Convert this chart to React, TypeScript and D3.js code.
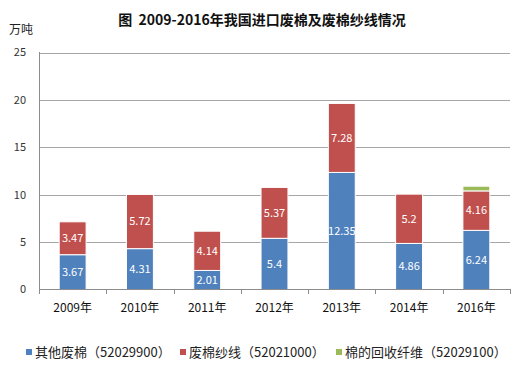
import React, { useEffect, useRef } from 'react';
import * as d3 from 'd3';

// chart data
const years = ['2009年', '2010年', '2011年', '2012年', '2013年', '2014年', '2016年'];
const otherWaste = [3.67, 4.31, 2.01, 5.4, 12.35, 4.86, 6.24];
const wasteYarn = [3.47, 5.72, 4.14, 5.37, 7.28, 5.2, 4.16];
const recycled = [0, 0, 0, 0, 0, 0, 0.5];
const seriesNames = ['其他废棉（52029900）', '废棉纱线（52021000）', '棉的回收纤维（52029100）'];
const yTicks = [0, 5, 10, 15, 20, 25];

const colors = ['#4f81bd', '#c0504d', '#9bbb59'];
const font = '"Noto Sans CJK SC", "Noto Sans", sans-serif';

const App = () => {
  const svgRef = useRef<SVGSVGElement | null>(null);

  useEffect(() => {
    if (!svgRef.current) return;
    const width = 518;
    const height = 373;
    const svg = d3.select(svgRef.current);
    svg.attr('width', width).attr('height', height);
    svg.selectAll('*').remove();

    svg.append('rect').attr('width', width).attr('height', height).attr('fill', '#fff');

    const x = d3.scaleBand<string>().domain(years).range([39, 510]).paddingInner(0.6).paddingOuter(0.3);
    const y = d3.scaleLinear().domain([0, 25]).range([289.5, 52.5]);

    // title
    svg.append('text')
      .attr('x', 262).attr('y', 25)
      .attr('text-anchor', 'middle')
      .attr('fill', '#111')
      .style('font-family', font)
      .style('font-size', '14px')
      .style('font-weight', 'bold')
      .style('white-space', 'pre')
      .text('图  2009-2016年我国进口废棉及废棉纱线情况');

    // unit
    svg.append('text')
      .attr('x', 9).attr('y', 34)
      .attr('fill', '#222')
      .style('font-family', font)
      .style('font-size', '12px')
      .text('万吨');

    // gridlines + y labels
    yTicks.forEach(t => {
      if (t > 0) {
        svg.append('line')
          .attr('x1', 39).attr('x2', 510)
          .attr('y1', Math.round(y(t)) + 0.5).attr('y2', Math.round(y(t)) + 0.5)
          .attr('stroke', '#a6a6a6');
      }
      svg.append('text')
        .attr('x', 26).attr('y', y(t))
        .attr('dy', '0.35em')
        .attr('text-anchor', 'end')
        .attr('fill', '#333')
        .style('font-family', font)
        .style('font-size', '11px')
        .text(t);
    });

    // stacked bars
    const seriesVals = [otherWaste, wasteYarn, recycled];
    const stackData = years.map((yr, i) => ({ year: yr, a: otherWaste[i], b: wasteYarn[i], c: recycled[i] }));
    const stack = d3.stack<any>().keys(['a', 'b', 'c'])(stackData);
    stack.forEach((layer, si) => {
      layer.forEach((seg, i) => {
        const v = seriesVals[si][i];
        if (v <= 0) return;
        const yr = years[i];
        svg.append('rect')
          .attr('x', x(yr)!)
          .attr('y', y(seg[1]))
          .attr('width', x.bandwidth())
          .attr('height', y(seg[0]) - y(seg[1]))
          .attr('fill', colors[si])
          .attr('stroke', '#fff')
          .attr('stroke-width', 1);
        if (si < 2) {
          svg.append('text')
            .attr('x', x(yr)! + x.bandwidth() / 2)
            .attr('y', y((seg[0] + seg[1]) / 2))
            .attr('dy', '0.35em')
            .attr('text-anchor', 'middle')
            .attr('fill', '#fff')
            .style('font-family', font)
            .style('font-size', '11px')
            .text(v);
        }
      });
    });

    // axes
    svg.append('line')
      .attr('x1', 39.5).attr('x2', 39.5).attr('y1', 52).attr('y2', 290)
      .attr('stroke', '#8c8c8c');
    svg.append('line')
      .attr('x1', 39).attr('x2', 510).attr('y1', 289.5).attr('y2', 289.5)
      .attr('stroke', '#8c8c8c');
    d3.range(years.length + 1).forEach(i => {
      const xx = Math.round(39 + i * x.step()) + 0.5;
      svg.append('line')
        .attr('x1', xx).attr('x2', xx).attr('y1', 289).attr('y2', 294)
        .attr('stroke', '#8c8c8c');
    });
    years.forEach(yr => {
      svg.append('text')
        .attr('x', x(yr)! + x.bandwidth() / 2)
        .attr('y', 308)
        .attr('dy', '0.35em')
        .attr('text-anchor', 'middle')
        .attr('fill', '#111')
        .style('font-family', font)
        .style('font-size', '12px')
        .text(yr);
    });

    // legend
    const legendX = [26, 180, 336];
    seriesNames.forEach((name, i) => {
      svg.append('rect')
        .attr('x', legendX[i]).attr('y', 349)
        .attr('width', 6).attr('height', 6)
        .attr('fill', colors[i]);
      svg.append('text')
        .attr('x', legendX[i] + 9).attr('y', 352)
        .attr('dy', '0.35em')
        .attr('fill', '#222')
        .style('font-family', font)
        .style('font-size', '13px')
        .text(name);
    });
  }, []);

  return (
    <div style={{ position: 'fixed', left: 0, top: 0 }}>
      <svg ref={svgRef} style={{ display: 'block' }}></svg>
    </div>
  );
};

export default App;
